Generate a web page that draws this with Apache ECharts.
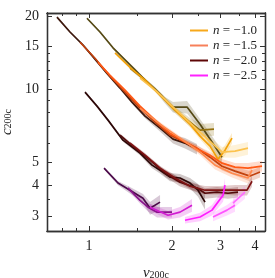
<!DOCTYPE html>
<html><head><meta charset="utf-8">
<script src="https://cdn.jsdelivr.net/npm/echarts@6/dist/echarts.min.js"></script>
<style>html,body{margin:0;padding:0;background:#fff}#c{width:275px;height:278px}</style>
</head><body><div id="c"></div>
<script>
// ---------- data (nu_200c, c_200c, relative band half-width) ----------
// n = -1.0
const nu_n10_a = [0.983,1.096,1.222,1.351,1.469,1.597,1.736,1.887,2.017,2.268,2.528,2.794,3.038];
const c_n10_a  = [19.6,17.2,14.8,13.2,12.0,10.9,10.0,9.0,8.43,8.43,7.17,6.05,5.24];
const e_n10_a  = [0.01,0.01,0.01,0.01,0.015,0.015,0.02,0.03,0.05,0.06,0.05,0.06,0.06];
const nu_n10_b = [1.408,1.597,1.810,2.051,2.325,2.528,2.841];
const c_n10_b  = [12.2,10.9,9.54,8.19,7.31,6.77,6.84];
const e_n10_b  = [0.015,0.02,0.02,0.03,0.04,0.06,0.06];
const nu_n10_c = [1.243,1.408,1.597,1.810,2.051,2.325,2.528,2.748,2.938,3.115,3.302];
const c_n10_c  = [14.1,12.3,10.9,9.45,8.19,7.17,6.40,5.82,5.14,5.60,6.28];
const e_n10_c  = [0.01,0.01,0.015,0.015,0.02,0.03,0.03,0.04,0.05,0.05,0.05];
const nu_n10_d = [1.531,1.736,1.967,2.230,2.528,2.794,3.038,3.386,3.774];
const c_n10_d  = [11.1,9.9,8.67,7.59,6.65,5.99,5.50,5.55,5.71];
const e_n10_d  = [0.01,0.015,0.02,0.02,0.03,0.04,0.05,0.06,0.06];
// n = -1.5
const nu_n15_a = [0.765,0.853,0.951,1.051,1.162,1.296,1.432,1.597,1.810,2.017,2.230,2.465];
const c_n15_a  = [19.8,17.2,15.2,13.3,11.6,10.1,8.84,7.74,6.90,6.22,5.99,5.66];
const e_n15_a  = [0.01,0.01,0.01,0.01,0.01,0.015,0.015,0.02,0.03,0.04,0.05,0.05];
const nu_n15_b = [0.928,1.051,1.192,1.351,1.531,1.736,1.967,2.193,2.465,2.748,3.038,3.386,3.838,4.173];
const c_n15_b  = [15.6,13.4,11.3,9.72,8.35,7.31,6.46,6.10,5.71,5.24,4.81,4.59,4.38,4.55];
const e_n15_b  = [0.01,0.01,0.01,0.01,0.015,0.015,0.02,0.02,0.03,0.03,0.04,0.04,0.05,0.05];
const nu_n15_c = [1.078,1.192,1.351,1.531,1.736,1.967,2.230,2.528,2.748,3.038,3.386,3.774,4.243];
const c_n15_c  = [12.9,11.4,9.9,8.51,7.45,6.58,6.05,5.60,5.34,4.95,4.77,4.72,4.81];
const e_n15_c  = [0.01,0.01,0.01,0.015,0.015,0.02,0.02,0.03,0.03,0.04,0.04,0.05,0.05];
const nu_n15_d = [1.531,1.810,2.139,2.528,2.865,3.302,3.774,3.903];
const c_n15_d  = [8.35,7.17,6.28,5.50,4.86,4.50,4.30,4.63];
const e_n15_d  = [0.015,0.02,0.02,0.03,0.04,0.04,0.05,0.05];
// n = -2.0
const nu_n20_a = [0.967,1.069,1.172,1.328,1.531,1.693,1.810,1.967,2.139,2.325,2.486,2.636];
const c_n20_a  = [9.72,8.51,7.45,6.16,5.45,4.86,4.63,4.34,4.30,4.10,3.83,3.42];
const e_n20_a  = [0.01,0.01,0.01,0.015,0.02,0.03,0.03,0.04,0.04,0.05,0.06,0.07];
const nu_n20_b = [1.296,1.469,1.665,1.887,2.139,2.465,2.636,2.913,3.194,3.472];
const c_n20_b  = [6.46,5.71,5.10,4.50,4.13,3.91,3.72,3.76,3.72,3.76];
const e_n20_b  = [0.015,0.02,0.02,0.03,0.04,0.04,0.05,0.05,0.05,0.05];
const nu_n20_c = [1.408,1.597,1.810,2.051,2.325,2.636,2.987,3.386,3.743,3.903];
const c_n20_c  = [5.99,5.34,4.72,4.30,3.98,3.83,3.83,3.83,3.83,4.17];
const e_n20_c  = [0.015,0.02,0.02,0.03,0.03,0.04,0.04,0.05,0.05,0.05];
// n = -2.5
const nu_n25_a = [1.134,1.274,1.408,1.570,1.665,1.810];
const c_n25_a  = [4.72,4.10,3.83,3.55,3.23,3.42];
const e_n25_a  = [0.01,0.02,0.03,0.04,0.06,0.07];
const nu_n25_b = [1.385,1.531,1.637,1.765,2.000];
const c_n25_b  = [3.91,3.48,3.26,3.11,3.11];
const e_n25_b  = [0.02,0.03,0.04,0.05,0.05];
const nu_n25_c = [1.665,1.935,2.139,2.364];
const c_n25_c  = [3.26,3.02,3.11,3.32];
const e_n25_c  = [0.03,0.04,0.05,0.06];
const nu_n25_d = [2.230,2.528,2.794,3.063,3.115];
const c_n25_d  = [2.88,2.97,3.17,3.65,4.02];
const e_n25_d  = [0.03,0.04,0.05,0.06,0.07];
const nu_n25_e = [2.818,3.167,3.386];
const c_n25_e  = [2.97,3.17,3.32];
const e_n25_e  = [0.04,0.05,0.06];
const nu_n25_f = [3.330,3.681];
const c_n25_f  = [3.39,3.76];
const e_n25_f  = [0.05,0.06];

const legendNames = ['n = \u22121.0','n = \u22121.5','n = \u22122.0','n = \u22122.5'];
const xMajor = [1,2,3,4];
const xMinor = [0.8,0.9,1.5,2.5,3.5];
const yMajor = [3,4,5,10,15,20];
const yMinor = [3.5,4.5,6,7,8,9,11,12,13,14];
const xRange = [0.704,4.35];
const yRange = [2.6,20.6];

// ---------- styling ----------
const legendColors = ['#F7A81B','#F7805A','#5E0606','#FF22FF'];
const curves = [
  [nu_n10_a,c_n10_a,e_n10_a,'#564a16'],
  [nu_n10_b,c_n10_b,e_n10_b,'#93700f'],
  [nu_n10_c,c_n10_c,e_n10_c,'#F2A20A'],
  [nu_n10_d,c_n10_d,e_n10_d,'#FCC34E'],
  [nu_n15_a,c_n15_a,e_n15_a,'#3d180d'],
  [nu_n15_b,c_n15_b,e_n15_b,'#c2420e'],
  [nu_n15_c,c_n15_c,e_n15_c,'#FF5A16'],
  [nu_n15_d,c_n15_d,e_n15_d,'#FF8A4E'],
  [nu_n20_a,c_n20_a,e_n20_a,'#2c0707'],
  [nu_n20_b,c_n20_b,e_n20_b,'#520b0b'],
  [nu_n20_c,c_n20_c,e_n20_c,'#7e1313'],
  [nu_n25_a,c_n25_a,e_n25_a,'#4c0a4a'],
  [nu_n25_b,c_n25_b,e_n25_b,'#8a158c'],
  [nu_n25_c,c_n25_c,e_n25_c,'#d21cd2'],
  [nu_n25_d,c_n25_d,e_n25_d,'#FF1EFF'],
  [nu_n25_e,c_n25_e,e_n25_e,'#FF55FF'],
  [nu_n25_f,c_n25_f,e_n25_f,'#FF6CFF']
];
const FONT = 'Liberation Serif';
const AX = '#333';

function xAxis(pos, ticks, len, label){
  return {type:'log', logBase:10, min:xRange[0], max:xRange[1], position:pos,
    axisLine:{show:true,onZero:false,lineStyle:{color:AX,width:1.3}},
    axisTick:{show:true,inside:true,length:len,customValues:ticks,lineStyle:{color:AX,width:1}},
    axisLabel:{show:label,customValues:ticks,margin:8,fontFamily:FONT,fontSize:14,color:'#222'},
    splitLine:{show:false}, minorTick:{show:false}, minorSplitLine:{show:false}};
}
function yAxis(pos, ticks, len, label){
  return {type:'log', logBase:10, min:yRange[0], max:yRange[1], position:pos,
    axisLine:{show:true,onZero:false,lineStyle:{color:AX,width:1.3}},
    axisTick:{show:true,inside:true,length:len,customValues:ticks,lineStyle:{color:AX,width:1}},
    axisLabel:{show:label,customValues:ticks,margin:8,fontFamily:FONT,fontSize:14,color:'#222'},
    splitLine:{show:false}, minorTick:{show:false}, minorSplitLine:{show:false}};
}
const xs = [xAxis('bottom',xMajor,5,true), xAxis('bottom',xMinor,3,false), xAxis('top',xMajor,5,false), xAxis('top',xMinor,3,false)];
const ys = [yAxis('left',yMajor,5,true), yAxis('left',yMinor,3,false), yAxis('right',yMajor,5,false), yAxis('right',yMinor,3,false)];
xs[0].name = '{i|\u03bd}{s|200c}';
xs[0].nameLocation = 'middle';
xs[0].nameGap = 35;
xs[0].nameTextStyle = {fontFamily:FONT,color:'#222',rich:{i:{fontFamily:FONT,fontStyle:'italic',fontSize:15,padding:[0,0,3,0]},s:{fontFamily:FONT,fontSize:10}}};
ys[0].name = '{i|c}{s|200c}';
ys[0].nameLocation = 'middle';
ys[0].nameRotate = 90;
ys[0].nameGap = 29;
ys[0].nameTextStyle = {fontFamily:FONT,color:'#222',rich:{i:{fontFamily:FONT,fontStyle:'italic',fontSize:15,padding:[0,0,3,0]},s:{fontFamily:FONT,fontSize:10}}};

const series = [];
curves.forEach(function(cv){
  const nu=cv[0], c=cv[1], e=cv[2], col=cv[3];
  series.push({type:'custom', xAxisIndex:0, yAxisIndex:0, silent:true, clip:true, z:1,
    data:[[nu[0],c[0]]],
    renderItem:function(params, api){
      const pts=[];
      for(let i=0;i<nu.length;i++) pts.push(api.coord([nu[i], c[i]*(1+e[i])]));
      for(let i=nu.length-1;i>=0;i--) pts.push(api.coord([nu[i], c[i]*(1-e[i])]));
      return {type:'polygon', shape:{points:pts}, style:{fill:col, opacity:0.22}};
    }});
});
curves.forEach(function(cv){
  const nu=cv[0], c=cv[1], col=cv[3];
  series.push({type:'line', xAxisIndex:0, yAxisIndex:0, silent:true, z:3,
    data: nu.map(function(v,i){return [v,c[i]];}),
    symbol:'none', showSymbol:false, lineStyle:{color:col,width:1.7}, itemStyle:{color:col}});
});
legendNames.forEach(function(nm,i){
  series.push({type:'line', name:nm, data:[], symbol:'none', xAxisIndex:0, yAxisIndex:0,
    lineStyle:{color:legendColors[i],width:2}, itemStyle:{color:legendColors[i]}});
});

const chart = echarts.init(document.getElementById('c'), null, {renderer:'canvas'});
chart.setOption({
  animation:false,
  grid:{left:47,right:10,top:13,bottom:47,containLabel:false,outerBoundsMode:'none'},
  xAxis: xs, yAxis: ys,
  legend:{show:true, data:legendNames, orient:'vertical', left:185, top:19, itemWidth:18, itemHeight:12, itemGap:2,
    icon:'path://M0,0 L18,0 L18,2 L0,2 Z',
    formatter:function(n){return '{i|n}'+n.slice(1);},
    textStyle:{fontFamily:FONT,fontSize:13,color:'#222',rich:{i:{fontFamily:FONT,fontStyle:'italic',fontSize:13}}}},
  series: series
});
</script></body></html>
